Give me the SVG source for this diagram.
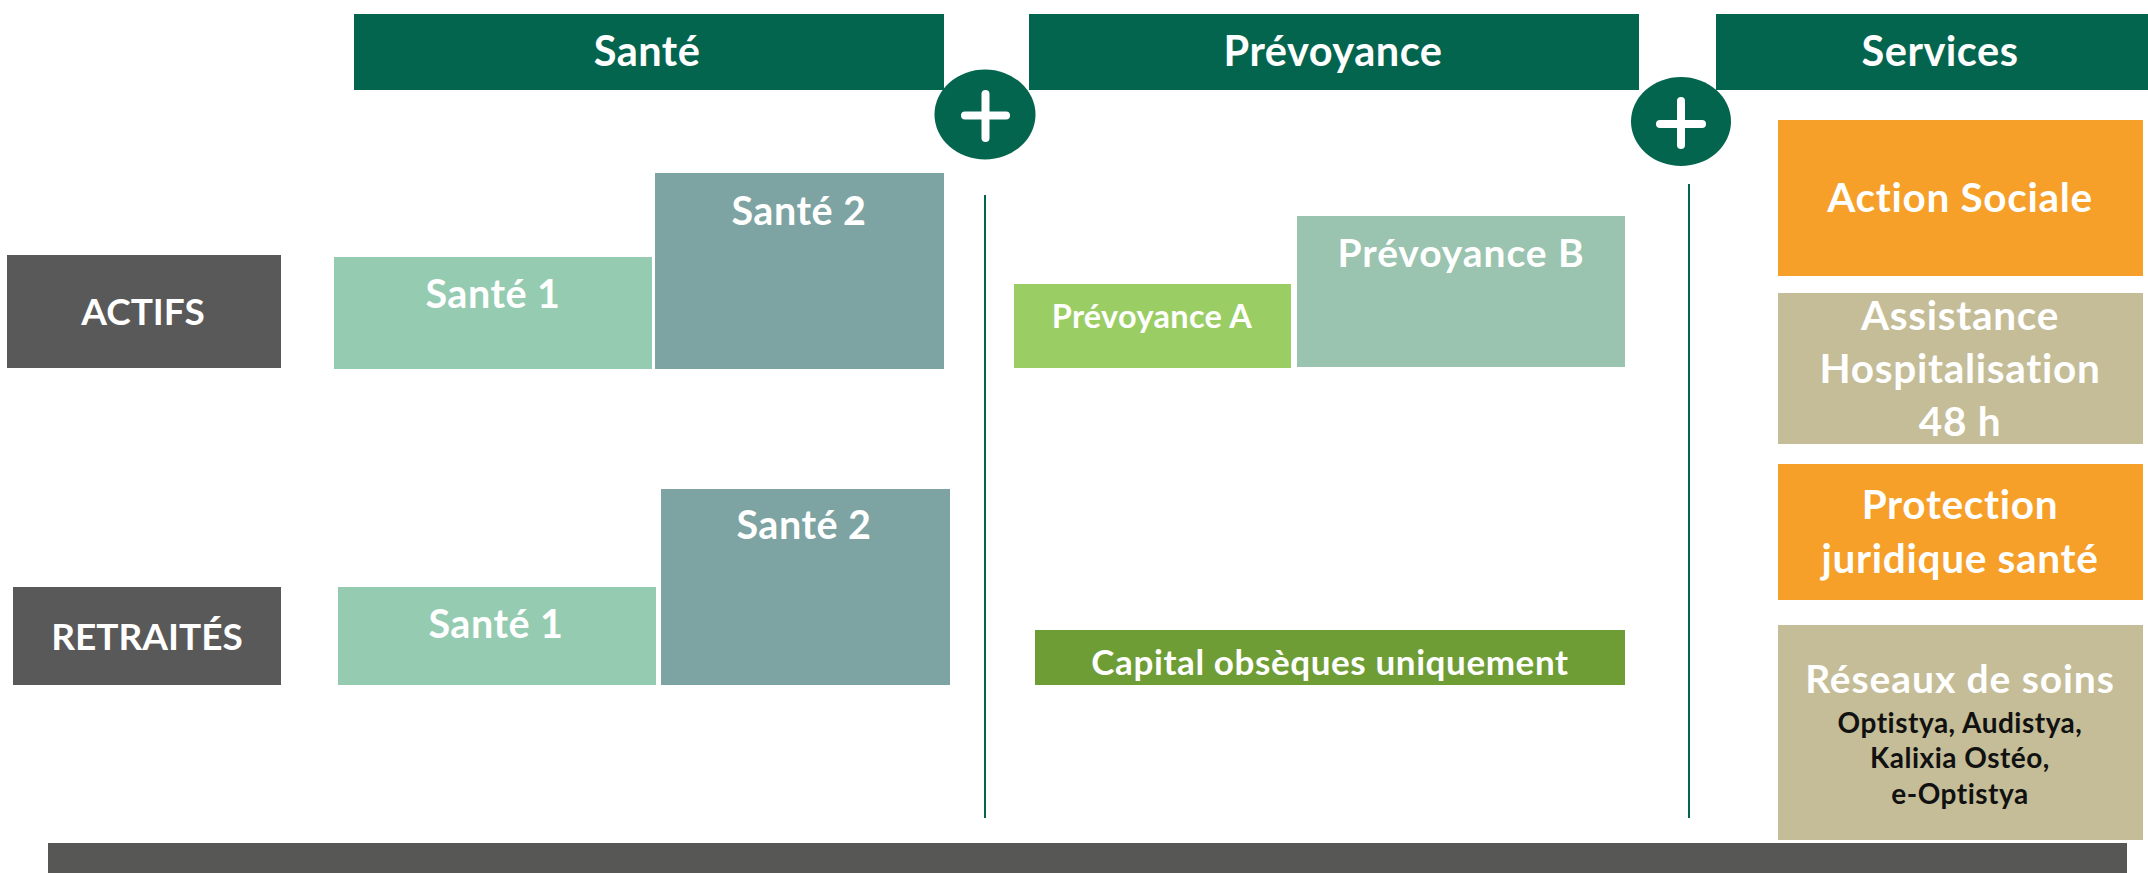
<svg xmlns="http://www.w3.org/2000/svg" width="2148" height="873" viewBox="0 0 2148 873">
<style>
text{font-family:Lato,"Open Sans","Liberation Sans",sans-serif;font-weight:bold;text-anchor:middle;fill:#fff}
.hdr{fill:#04654F}
.t-hdr{font-size:41.5px;letter-spacing:0.5px}
.t-row{font-size:37px}
.t-box{font-size:39.5px;letter-spacing:0.5px}
.t-svc{font-size:40.5px;letter-spacing:0.7px}
.blk{fill:#111;font-size:28px;letter-spacing:0.5px}
.vline{stroke:#04654F;stroke-width:2;fill:none}
.plus{stroke:#fff;stroke-width:8;stroke-linecap:round}
</style>
<rect width="2148" height="873" fill="#fff"/>
<g id="header-sante"><rect class="hdr" x="354" y="14" width="590" height="76"/><text class="t-hdr" x="647" y="66">Santé</text></g>
<g id="header-prevoyance"><rect class="hdr" x="1029" y="14" width="610" height="76"/><text class="t-hdr" x="1333" y="66">Prévoyance</text></g>
<g id="header-services"><rect class="hdr" x="1716" y="14" width="432" height="76"/><text class="t-hdr" x="1940" y="66">Services</text></g>
<g id="connectors">
<line class="vline" x1="985" y1="195" x2="985" y2="818"/>
<line class="vline" x1="1689" y1="184" x2="1689" y2="818"/>
</g>
<g id="plus-1"><ellipse class="hdr" cx="985" cy="114.5" rx="50.5" ry="45"/><line class="plus" x1="985.5" y1="94" x2="985.5" y2="138"/><line class="plus" x1="965" y1="115.5" x2="1006" y2="115.5"/></g>
<g id="plus-2"><ellipse class="hdr" cx="1681" cy="121.5" rx="50" ry="44.5"/><line class="plus" x1="1681" y1="101" x2="1681" y2="145"/><line class="plus" x1="1660" y1="124" x2="1702" y2="124"/></g>
<g id="actifs"><rect x="7" y="255" width="274" height="113" fill="#595959"/><text class="t-row" x="143" y="325">ACTIFS</text></g>
<g id="retraites"><rect x="13" y="587" width="268" height="98" fill="#595959"/><text class="t-row" x="147" y="650">RETRAITÉS</text></g>
<g id="actifs-sante1"><rect x="334" y="257" width="318" height="112" fill="#95CBB1"/><text class="t-box" x="493" y="308">Santé 1</text></g>
<g id="actifs-sante2"><rect x="655" y="173" width="289" height="196" fill="#7DA3A2"/><text class="t-box" x="799" y="225">Santé 2</text></g>
<g id="retraites-sante1"><rect x="338" y="587" width="318" height="98" fill="#95CBB1"/><text class="t-box" x="496" y="638">Santé 1</text></g>
<g id="retraites-sante2"><rect x="661" y="489" width="289" height="196" fill="#7DA3A2"/><text class="t-box" x="804" y="539">Santé 2</text></g>
<g id="prevoyance-a"><rect x="1014" y="284" width="277" height="84" fill="#9BCD65"/><text x="1152" y="328" style="font-size:32.5px;letter-spacing:0.3px">Prévoyance A</text></g>
<g id="prevoyance-b"><rect x="1297" y="216" width="328" height="151" fill="#9AC4AF"/><text x="1461" y="267" style="font-size:39px;letter-spacing:0.9px">Prévoyance B</text></g>
<g id="capital-obseques"><rect x="1035" y="630" width="590" height="55" fill="#6E9D35"/><text x="1330" y="675" style="font-size:35px;letter-spacing:0.6px">Capital obsèques uniquement</text></g>
<g id="action-sociale"><rect x="1778" y="120" width="365" height="156" fill="#F6A02A"/><text class="t-svc" x="1960" y="212">Action Sociale</text></g>
<g id="assistance"><rect x="1778" y="293" width="365" height="151" fill="#C4BD97"/><text class="t-svc" x="1960" y="330">Assistance</text><text class="t-svc" x="1960" y="383">Hospitalisation</text><text class="t-svc" x="1960" y="436">48 h</text></g>
<g id="protection"><rect x="1778" y="464" width="365" height="136" fill="#F6A02A"/><text class="t-svc" x="1960" y="519">Protection</text><text class="t-svc" x="1960" y="573">juridique santé</text></g>
<g id="reseaux"><rect x="1778" y="625" width="365" height="215" fill="#C4BD97"/><text x="1960" y="693" style="font-size:39px;letter-spacing:0.9px">Réseaux de soins</text><text class="blk" x="1960" y="733">Optistya, Audistya,</text><text class="blk" x="1960" y="768">Kalixia Ostéo,</text><text class="blk" x="1960" y="804">e-Optistya</text></g>
<g id="bottom-bar"><rect x="48" y="843" width="2079" height="30" fill="#575756"/></g>
</svg>
